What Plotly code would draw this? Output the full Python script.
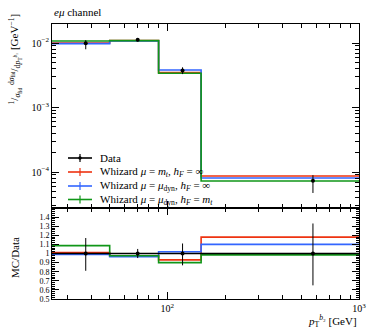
import math
import plotly.graph_objects as go

# ---------------- data ----------------
bin_edges = [25, 50, 90, 150, 1000]
bin_centers = [37.5, 70, 120, 575]

data_vals = [0.99e-2, 1.12e-2, 3.75e-3, 7.33e-5]
data_err_up = [0.12e-2, 0.06e-2, 0.45e-3, 1.6e-5]
data_err_dn = [0.19e-2, 0.06e-2, 0.45e-3, 2.6e-5]

red_vals = [1.00e-2, 1.09e-2, 3.50e-3, 8.65e-5]     # mu = m_t, h_F = inf
blue_vals = [0.98e-2, 1.08e-2, 3.82e-3, 8.06e-5]    # mu = mu_dyn, h_F = inf
green_vals = [1.075e-2, 1.09e-2, 3.40e-3, 7.25e-5]  # mu = mu_dyn, h_F = m_t

ratio_data = [1.0, 1.0, 1.0, 1.0]
ratio_err_up = [0.17, 0.05, 0.11, 0.33]
ratio_err_dn = [0.19, 0.05, 0.13, 0.35]
ratio_red = [1.01, 0.975, 0.93, 1.18]
ratio_blue = [0.99, 0.965, 1.02, 1.10]
ratio_green = [1.086, 0.975, 0.90, 0.985]

legend_labels = [
    "Data",
    "Whizard <i>μ</i> = <i>m</i><sub><i>t</i></sub>, <i>h</i><sub><i>F</i></sub> = ∞",
    "Whizard <i>μ</i> = <i>μ</i><sub>dyn</sub>, <i>h</i><sub><i>F</i></sub> = ∞",
    "Whizard <i>μ</i> = <i>μ</i><sub>dyn</sub>, <i>h</i><sub><i>F</i></sub> = <i>m</i><sub><i>t</i></sub>",
]

RED, BLUE, GREEN = "#EE3311", "#3366FF", "#109618"
FONT = "Liberation Serif"

W, H = 368, 330
ML, MR, MT, MB = 52, 9, 24, 31
PW, PH = W - ML - MR, H - MT - MB
split_px = 208  # boundary between panels
split = (H - MB - split_px) / PH


def step(vals):
    return vals + [vals[-1]]


fig = go.Figure()

for vals, col in [(red_vals, RED), (blue_vals, BLUE), (green_vals, GREEN)]:
    fig.add_trace(go.Scatter(x=bin_edges, y=step(vals), mode="lines",
                             line=dict(color=col, width=1.6, shape="hv"),
                             xaxis="x", yaxis="y", showlegend=False))
fig.add_trace(go.Scatter(x=bin_centers, y=data_vals, mode="markers",
                         marker=dict(color="black", size=4),
                         error_y=dict(type="data", array=data_err_up, arrayminus=data_err_dn,
                                      color="black", thickness=1, width=0),
                         xaxis="x", yaxis="y", showlegend=False))

for vals, col in [(ratio_red, RED), (ratio_blue, BLUE), (ratio_green, GREEN)]:
    fig.add_trace(go.Scatter(x=bin_edges, y=step(vals), mode="lines",
                             line=dict(color=col, width=1.6, shape="hv"),
                             xaxis="x2", yaxis="y2", showlegend=False))
fig.add_trace(go.Scatter(x=bin_edges, y=step(ratio_data), mode="lines",
                         line=dict(color="black", width=1.4, shape="hv"),
                         xaxis="x2", yaxis="y2", showlegend=False))
fig.add_trace(go.Scatter(x=bin_centers, y=ratio_data, mode="markers",
                         marker=dict(color="black", size=4),
                         error_y=dict(type="data", array=ratio_err_up, arrayminus=ratio_err_dn,
                                      color="black", thickness=1, width=0),
                         xaxis="x2", yaxis="y2", showlegend=False))

x_minor = [k * 10 ** e for e in (1, 2) for k in range(2, 10)]
y_minor = [k * 10.0 ** e for e in (-5, -4, -3, -2) for k in range(2, 10)]
ratio_ticks = [0.5, 0.6, 0.7, 0.8, 0.9, 1.0, 1.1, 1.2, 1.3, 1.4]
ratio_ticktext = ["0.5", "0.6", "0.7", "0.8", "0.9", "1", "1.1", "1.2", "1.3", "1.4"]

axis_common = dict(showline=True, linecolor="black", linewidth=1, mirror="allticks",
                   ticks="inside", tickcolor="black", ticklen=7, tickwidth=1,
                   showgrid=False, zeroline=False, automargin=False,
                   tickfont=dict(family=FONT, size=10, color="black"))

xrange_log = [math.log10(25), 3]

fig.update_layout(
    template="none",
    width=W, height=H,
    margin=dict(l=ML, r=MR, t=MT, b=MB, pad=0, autoexpand=False),
    paper_bgcolor="white", plot_bgcolor="white",
    showlegend=False,
    font=dict(family=FONT, color="black"),
    xaxis=dict(axis_common, type="log", range=xrange_log, domain=[0, 1], anchor="y",
               tickmode="array", tickvals=[100, 1000], showticklabels=False,
               minor=dict(tickmode="array", tickvals=x_minor, ticks="inside", ticklen=4,
                          tickcolor="black", showgrid=False)),
    yaxis=dict(axis_common, type="log", range=[-4.558, -1.705], domain=[split, 1], anchor="x",
               tickmode="array", tickvals=[1e-4, 1e-3, 1e-2],
               ticktext=["10<sup>−4</sup>", "10<sup>−3</sup>", "10<sup>−2</sup>"],
               minor=dict(tickmode="array", tickvals=y_minor, ticks="inside", ticklen=4,
                          tickcolor="black", showgrid=False)),
    xaxis2=dict(axis_common, type="log", range=xrange_log, domain=[0, 1], anchor="y2",
                matches="x", tickmode="array", tickvals=[100, 1000],
                ticktext=["10<sup>2</sup>", "10<sup>3</sup>"],
                minor=dict(tickmode="array", tickvals=x_minor, ticks="inside", ticklen=4,
                           tickcolor="black", showgrid=False)),
    yaxis2=dict(axis_common, range=[0.5, 1.5], domain=[0, split], anchor="x2",
                tickmode="array", tickvals=ratio_ticks, ticktext=ratio_ticktext,
                tickfont=dict(family=FONT, size=8, color="black"),
                minor=dict(tickmode="linear", tick0=0.5, dtick=0.02, ticks="inside",
                           ticklen=3, tickcolor="black", showgrid=False)),
)


def px2x(px):
    return (px - ML) / PW


def px2y(py):
    return (H - MB - py) / PH


annotations = [
    dict(text="<i>eμ</i> channel", x=px2x(52), y=px2y(12), xanchor="left", yanchor="middle",
         font=dict(size=11)),
    dict(text="<sup>1</sup>/<sub><i>σ</i><sub>fid</sub></sub> "
              "<sup>d<i>σ</i><sub>fid</sub></sup>/<sub>d<i>p</i><sub>T</sub><sup><i>b</i>₂</sup></sub>"
              " [GeV<sup>−1</sup>]",
         x=px2x(15), y=px2y(12), textangle=-90, xanchor="center", yanchor="top",
         font=dict(size=11)),
    dict(text="MC/Data", x=px2x(15), y=px2y(258), textangle=-90, xanchor="center",
         yanchor="middle", font=dict(size=11)),
    dict(text="<i>p</i><sub>T</sub><sup><i>b</i>₂</sup> [GeV]", x=px2x(359), y=px2y(321),
         xanchor="right", yanchor="middle", font=dict(size=11)),
]

rows_px = [158, 172, 186, 199.5]
colors = ["black", RED, BLUE, GREEN]
shapes = []
for label, col, ry in zip(legend_labels, colors, rows_px):
    shapes.append(dict(type="line", xref="paper", yref="paper",
                       x0=px2x(68), x1=px2x(92), y0=px2y(ry), y1=px2y(ry),
                       line=dict(color=col, width=1.6)))
    shapes.append(dict(type="line", xref="paper", yref="paper",
                       x0=px2x(80), x1=px2x(80), y0=px2y(ry - 4), y1=px2y(ry + 4),
                       line=dict(color=col, width=1.2)))
    if col == "black":
        shapes.append(dict(type="circle", xref="paper", yref="paper",
                           x0=px2x(78.3), x1=px2x(81.7), y0=px2y(ry - 1.7), y1=px2y(ry + 1.7),
                           fillcolor="black", line=dict(color="black", width=0)))
    annotations.append(dict(text=label, x=px2x(98), y=px2y(ry), xanchor="left",
                            yanchor="middle", font=dict(size=11)))

for a in annotations:
    a.setdefault("xref", "paper")
    a.setdefault("yref", "paper")
    a["showarrow"] = False

fig.update_layout(annotations=annotations, shapes=shapes)

fig.write_html("out.html", config={"displayModeBar": False},
               post_script="document.body.style.margin='0';document.body.style.overflow='hidden';")
